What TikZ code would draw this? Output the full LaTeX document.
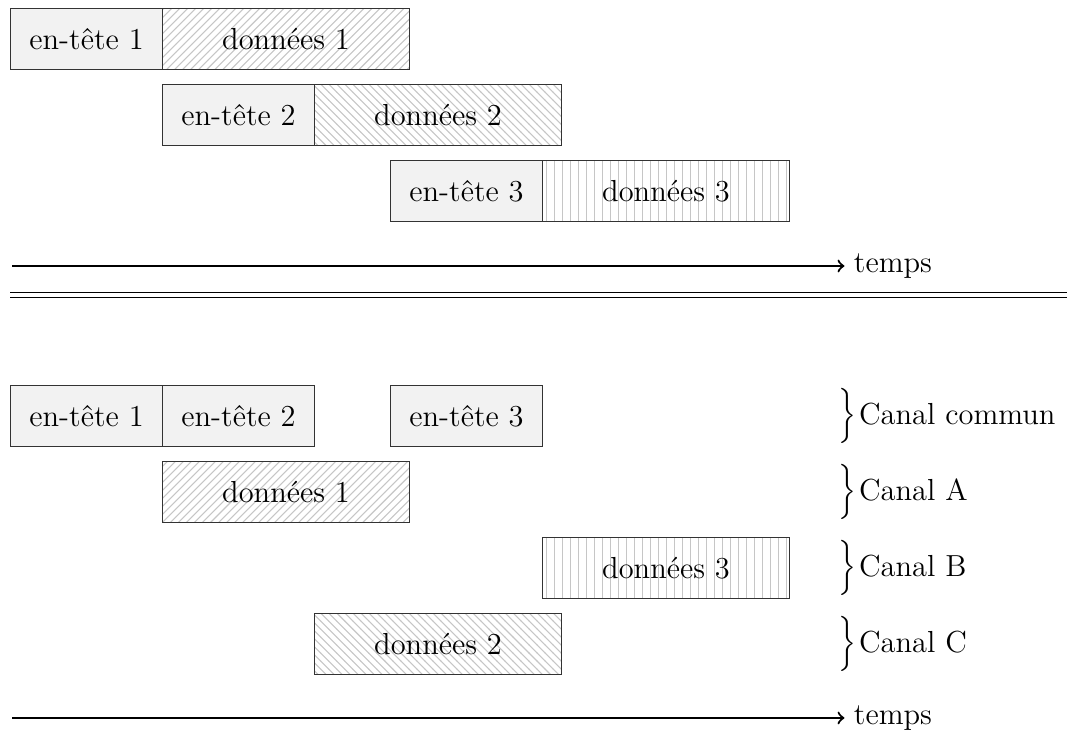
\documentclass[tikz,border=0pt]{standalone}
\usepackage{tikz}
\usepackage{graphicx}
\usetikzlibrary{patterns, positioning}
\newcommand{\canalbrace}{\raisebox{-0.1pt}{\scalebox{1}[1.15]{$\Big\}$}}\kern1.2pt}
\begin{document}
\begin{tikzpicture}[
            every node/.style={font=\fontsize{11.4}{13.7}\selectfont},
            header/.style={draw=black!80, fill=gray!10, minimum width=2cm, minimum height=0.8cm, anchor=west, inner sep=0pt},
            data/.style={draw=black!80, minimum width=3.25cm, minimum height=0.8cm, anchor=west, inner sep=0pt, pattern color=gray!45},
            canal/.style={anchor=west, inner sep=0pt},
            edge/.style={->, thick}
        ]
        \useasboundingbox (-0.132,0) rectangle (13.908,-9.645);

        % Top: headers followed by their data
        \node[header] (h1) at (0,-0.513) {en-tête 1};
        \node[data, pattern=north east lines] (d1) at (2,-0.513) {données 1};
        \node[header] (h2) at (2,-1.513) {en-tête 2};
        \node[data, pattern=north west lines] (d2) at (4,-1.513) {données 2};
        \node[header] (h3) at (5,-2.513) {en-tête 3};
        \node[data, pattern=vertical lines] (d3) at (7,-2.513) {données 3};

        \coordinate (a1) at (0.03,-3.5);
        \node[anchor=west] (t1) at (10.98,-3.5) {temps};
        \draw[edge] (a1) -- (t1.west);

        % Separator
        \coordinate (sepL) at (0,-3.88);
        \coordinate (sepR) at (14.0,-3.88);
        \draw[double, double distance=1.6pt] (sepL) -- (sepR);

        % Bottom: one channel per row
        \node[header] (ch1) at (0,-5.474) {en-tête 1};
        \node[header] (ch2) at (2,-5.474) {en-tête 2};
        \node[header] (ch3) at (5,-5.474) {en-tête 3};
        \node[data, pattern=north east lines] (cd1) at (2,-6.474) {données 1};
        \node[data, pattern=vertical lines] (cd3) at (7,-7.474) {données 3};
        \node[data, pattern=north west lines] (cd2) at (4,-8.474) {données 2};

        \node[canal] (cc) at (10.89,-5.474) {\canalbrace Canal commun};
        \node[canal] (ca) at (10.89,-6.474) {\canalbrace Canal A};
        \node[canal] (cb) at (10.89,-7.474) {\canalbrace Canal B};
        \node[canal] (cc2) at (10.89,-8.474) {\canalbrace Canal C};

        \coordinate (a2) at (0.03,-9.447);
        \node[anchor=west] (t2) at (10.98,-9.447) {temps};
        \draw[edge] (a2) -- (t2.west);

        \end{tikzpicture}
\end{document}
